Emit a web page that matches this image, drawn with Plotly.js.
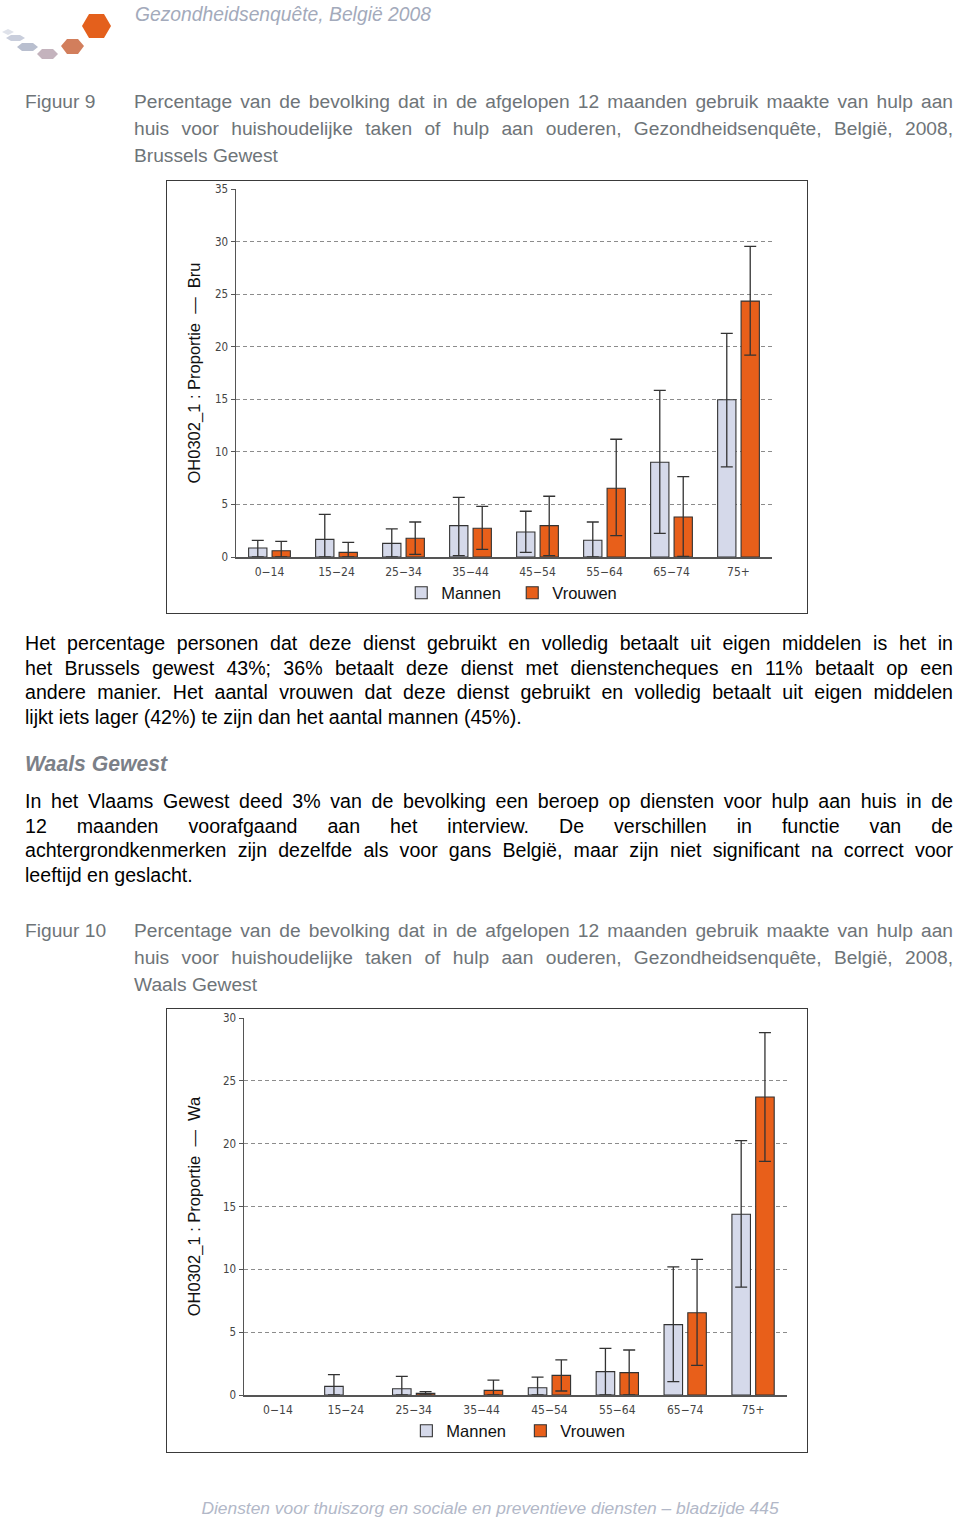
<!DOCTYPE html>
<html>
<head>
<meta charset="utf-8">
<script src="https://cdn.plot.ly/plotly-3.0.1.min.js"></script>
<style>
  html, body { margin:0; padding:0; background:#fff; }
  body { width:960px; height:1520px; position:relative; overflow:hidden; font-family:"Liberation Sans", Arial, sans-serif; }
  .abs { position:absolute; }
  .hdr { left:135px; top:4px; font-size:19.3px; font-style:italic; color:#a3aabb; white-space:nowrap; }
  .figlab { left:25px; font-size:19.2px; color:#6e7478; line-height:27px; }
  .cap { left:134px; width:819px; font-size:19.2px; color:#6e7478; line-height:27px; }
  .body { left:25px; width:928px; font-size:19.6px; color:#000; line-height:24.5px; }
  .ln { white-space:nowrap; text-align:justify; text-align-last:justify; }
  .ln.last { text-align-last:left; }
  .sect { left:25px; font-size:21.2px; font-weight:bold; font-style:italic; color:#7b8088; white-space:nowrap; }
  .foot { left:0; width:980px; text-align:center; top:1498px; font-size:17.4px; font-style:italic; color:#b2b8c8; white-space:nowrap; }
  .chart { position:absolute; left:166px; width:640px; border:1px solid #3a3a3a; }
</style>
</head>
<body>
<svg class="abs" style="left:0;top:0" width="120" height="70">
  <polygon points="2,32 8,29 14,32 8,35" fill="#dfe2ea"/>
  <polygon points="6,38 11,35 20,35 25,38 20,41 11,41" fill="#c9cedc"/>
  <polygon points="17,47 22,43 33,43 38,47 33,51 22,51" fill="#b9bfcf"/>
  <polygon points="37,54 42,49 53,49 58,54 53,59 42,59" fill="#c4b3bd"/>
  <polygon points="61,46 67,39 78,39 84,46 78,54 67,54" fill="#d27e5c"/>
  <polygon points="82,26 89,14 104,14 111,26 104,38 89,38" fill="#e4601c"/>
</svg>
<div class="abs hdr">Gezondheidsenquête, België 2008</div>

<div class="abs figlab" style="top:88px">Figuur 9</div>
<div class="abs cap" style="top:88px">
  <div class="ln">Percentage van de bevolking dat in de afgelopen 12 maanden gebruik maakte van hulp aan</div>
  <div class="ln">huis voor huishoudelijke taken of hulp aan ouderen, Gezondheidsenquête, België, 2008,</div>
  <div class="ln last">Brussels Gewest</div>
</div>

<div id="chart1" class="chart" style="top:180px;height:432px"></div>

<div class="abs body" style="top:631px">
  <div class="ln">Het percentage personen dat deze dienst gebruikt en volledig betaalt uit eigen middelen is het in</div>
  <div class="ln">het Brussels gewest 43%; 36% betaalt deze dienst met dienstencheques en 11% betaalt op een</div>
  <div class="ln">andere manier. Het aantal vrouwen dat deze dienst gebruikt en volledig betaalt uit eigen middelen</div>
  <div class="ln last">lijkt iets lager (42%) te zijn dan het aantal mannen (45%).</div>
</div>

<div class="abs sect" style="top:752px">Waals Gewest</div>

<div class="abs body" style="top:789px">
  <div class="ln">In het Vlaams Gewest deed 3% van de bevolking een beroep op diensten voor hulp aan huis in de</div>
  <div class="ln">12 maanden voorafgaand aan het interview. De verschillen in functie van de</div>
  <div class="ln">achtergrondkenmerken zijn dezelfde als voor gans België, maar zijn niet significant na correct voor</div>
  <div class="ln last">leeftijd en geslacht.</div>
</div>

<div class="abs figlab" style="top:917px">Figuur 10</div>
<div class="abs cap" style="top:917px">
  <div class="ln">Percentage van de bevolking dat in de afgelopen 12 maanden gebruik maakte van hulp aan</div>
  <div class="ln">huis voor huishoudelijke taken of hulp aan ouderen, Gezondheidsenquête, België, 2008,</div>
  <div class="ln last">Waals Gewest</div>
</div>

<div id="chart2" class="chart" style="top:1008px;height:443px"></div>

<div class="abs foot">Diensten voor thuiszorg en sociale en preventieve diensten – bladzijde 445</div>

<script>
// ---- data ----
const ageGroups = ["0\u221214","15\u221224","25\u221234","35\u221244","45\u221254","55\u221264","65\u221274","75+"];

// Figuur 9 - Brussels Gewest
const bruMannen      = [0.86, 1.68, 1.30, 2.98, 2.38, 1.59, 9.01, 14.95];
const bruMannenLow   = [0.00, 0.00, 0.00, 0.13, 0.44, 0.00, 2.25, 8.57];
const bruMannenHigh  = [1.59, 4.06, 2.67, 5.68, 4.35, 3.33, 15.84, 21.26];
const bruVrouwen     = [0.60, 0.44, 1.78, 2.73, 2.98, 6.54, 3.81, 24.34];
const bruVrouwenLow  = [0.00, 0.00, 0.25, 0.73, 0.13, 2.03, 0.06, 19.20];
const bruVrouwenHigh = [1.49, 1.40, 3.33, 4.82, 5.78, 11.20, 7.65, 29.55];

// Figuur 10 - Waals Gewest (null = no bar shown)
const waMannen      = [null, 0.69, 0.50, null, 0.58, 1.86, 5.60, 14.38];
const waMannenLow   = [null, 0.00, 0.00, null, 0.00, 0.00, 1.06, 8.59];
const waMannenHigh  = [null, 1.62, 1.49, null, 1.43, 3.71, 10.19, 20.24];
const waVrouwen     = [null, null, 0.13, 0.37, 1.56, 1.78, 6.55, 23.71];
const waVrouwenLow  = [null, null, 0.00, 0.00, 0.32, 0.00, 2.36, 18.59];
const waVrouwenHigh = [null, null, 0.27, 1.19, 2.79, 3.58, 10.80, 28.83];

const yTicks1 = [0,5,10,15,20,25,30,35];
const yTicks2 = [0,5,10,15,20,25,30];
const seriesNames = ["Mannen","Vrouwen"];

// ---- helpers ----
const colM = "#d5d9ea", colF = "#e85f1a", outline = "#333333";
const narrow = "'Liberation Sans Narrow', 'DejaVu Sans Condensed', 'Liberation Sans', sans-serif";

function plus(v, hi){ return v.map((x,i)=> (hi[i]==null || x==null) ? null : +(hi[i]-x).toFixed(3)); }
function minus(v, lo){ return v.map((x,i)=> (lo[i]==null || x==null) ? null : +(x-lo[i]).toFixed(3)); }

function mk(name, vals, lo, hi, col){
  return {
    type:"bar", name:name, x:ageGroups, y:vals,
    marker:{color:col, line:{color:outline, width:1.1}},
    error_y:{type:"data", symmetric:false, array:plus(vals,hi), arrayminus:minus(vals,lo),
             color:"#333", thickness:1.3, width:6},
    hoverinfo:"skip"
  };
}

function layoutFor(range, ticks, title, m, legX, legY, entryW, standoff){
  return {
    width:640, height:m.H, margin:{l:m.l, r:m.r, t:m.t, b:m.b},
    paper_bgcolor:"#fff", plot_bgcolor:"#fff",
    barmode:"group", bargap:0.3, bargroupgap:0.22,
    font:{family:"Liberation Sans, Arial, sans-serif", color:"#222"},
    showlegend:true,
    legend:{orientation:"h", xref:"container", yref:"container", x:legX, xanchor:"left", y:legY, yanchor:"middle",
            bgcolor:"rgba(0,0,0,0)",
            font:{size:16.5, color:"#111"}, entrywidth:entryW, entrywidthmode:"pixels",
            itemclick:false, itemdoubleclick:false},
    xaxis:{type:"category", showgrid:false, showline:true, linecolor:"#555", linewidth:1.5,
           ticks:"", ticklabelstandoff:3, tickfont:{family:narrow, size:12, color:"#444"}, fixedrange:true},
    yaxis:{range:range, tickvals:ticks, showgrid:true, gridcolor:"#8c8c8c", griddash:"4px,3px", gridwidth:1,
           zeroline:false, showline:true, linecolor:"#555", linewidth:1.5,
           ticks:"outside", ticklen:4, tickcolor:"#555",
           tickfont:{family:narrow, size:11.5, color:"#444"}, fixedrange:true,
           title:{text:title, font:{size:16.5, color:"#111"}, standoff:standoff}},
  };
}

Plotly.newPlot("chart1",
  [mk(seriesNames[0], bruMannen, bruMannenLow, bruMannenHigh, colM),
   mk(seriesNames[1], bruVrouwen, bruVrouwenLow, bruVrouwenHigh, colF)],
  layoutFor([0,35], yTicks1, "OH0302_1 : Proportie \u00a0\u2014\u00a0 Bru", {H:432, l:69, r:35, t:8, b:56}, 0.366, 0.0463, 66, 10),
  {displayModeBar:false, staticPlot:true});

Plotly.newPlot("chart2",
  [mk(seriesNames[0], waMannen, waMannenLow, waMannenHigh, colM),
   mk(seriesNames[1], waVrouwen, waVrouwenLow, waVrouwenHigh, colF)],
  layoutFor([0,30], yTicks2, "OH0302_1 : Proportie \u00a0\u2014\u00a0 Wa", {H:443, l:77, r:20, t:9, b:57}, 0.374, 0.0474, 69, 18),
  {displayModeBar:false, staticPlot:true});
</script>
</body>
</html>
